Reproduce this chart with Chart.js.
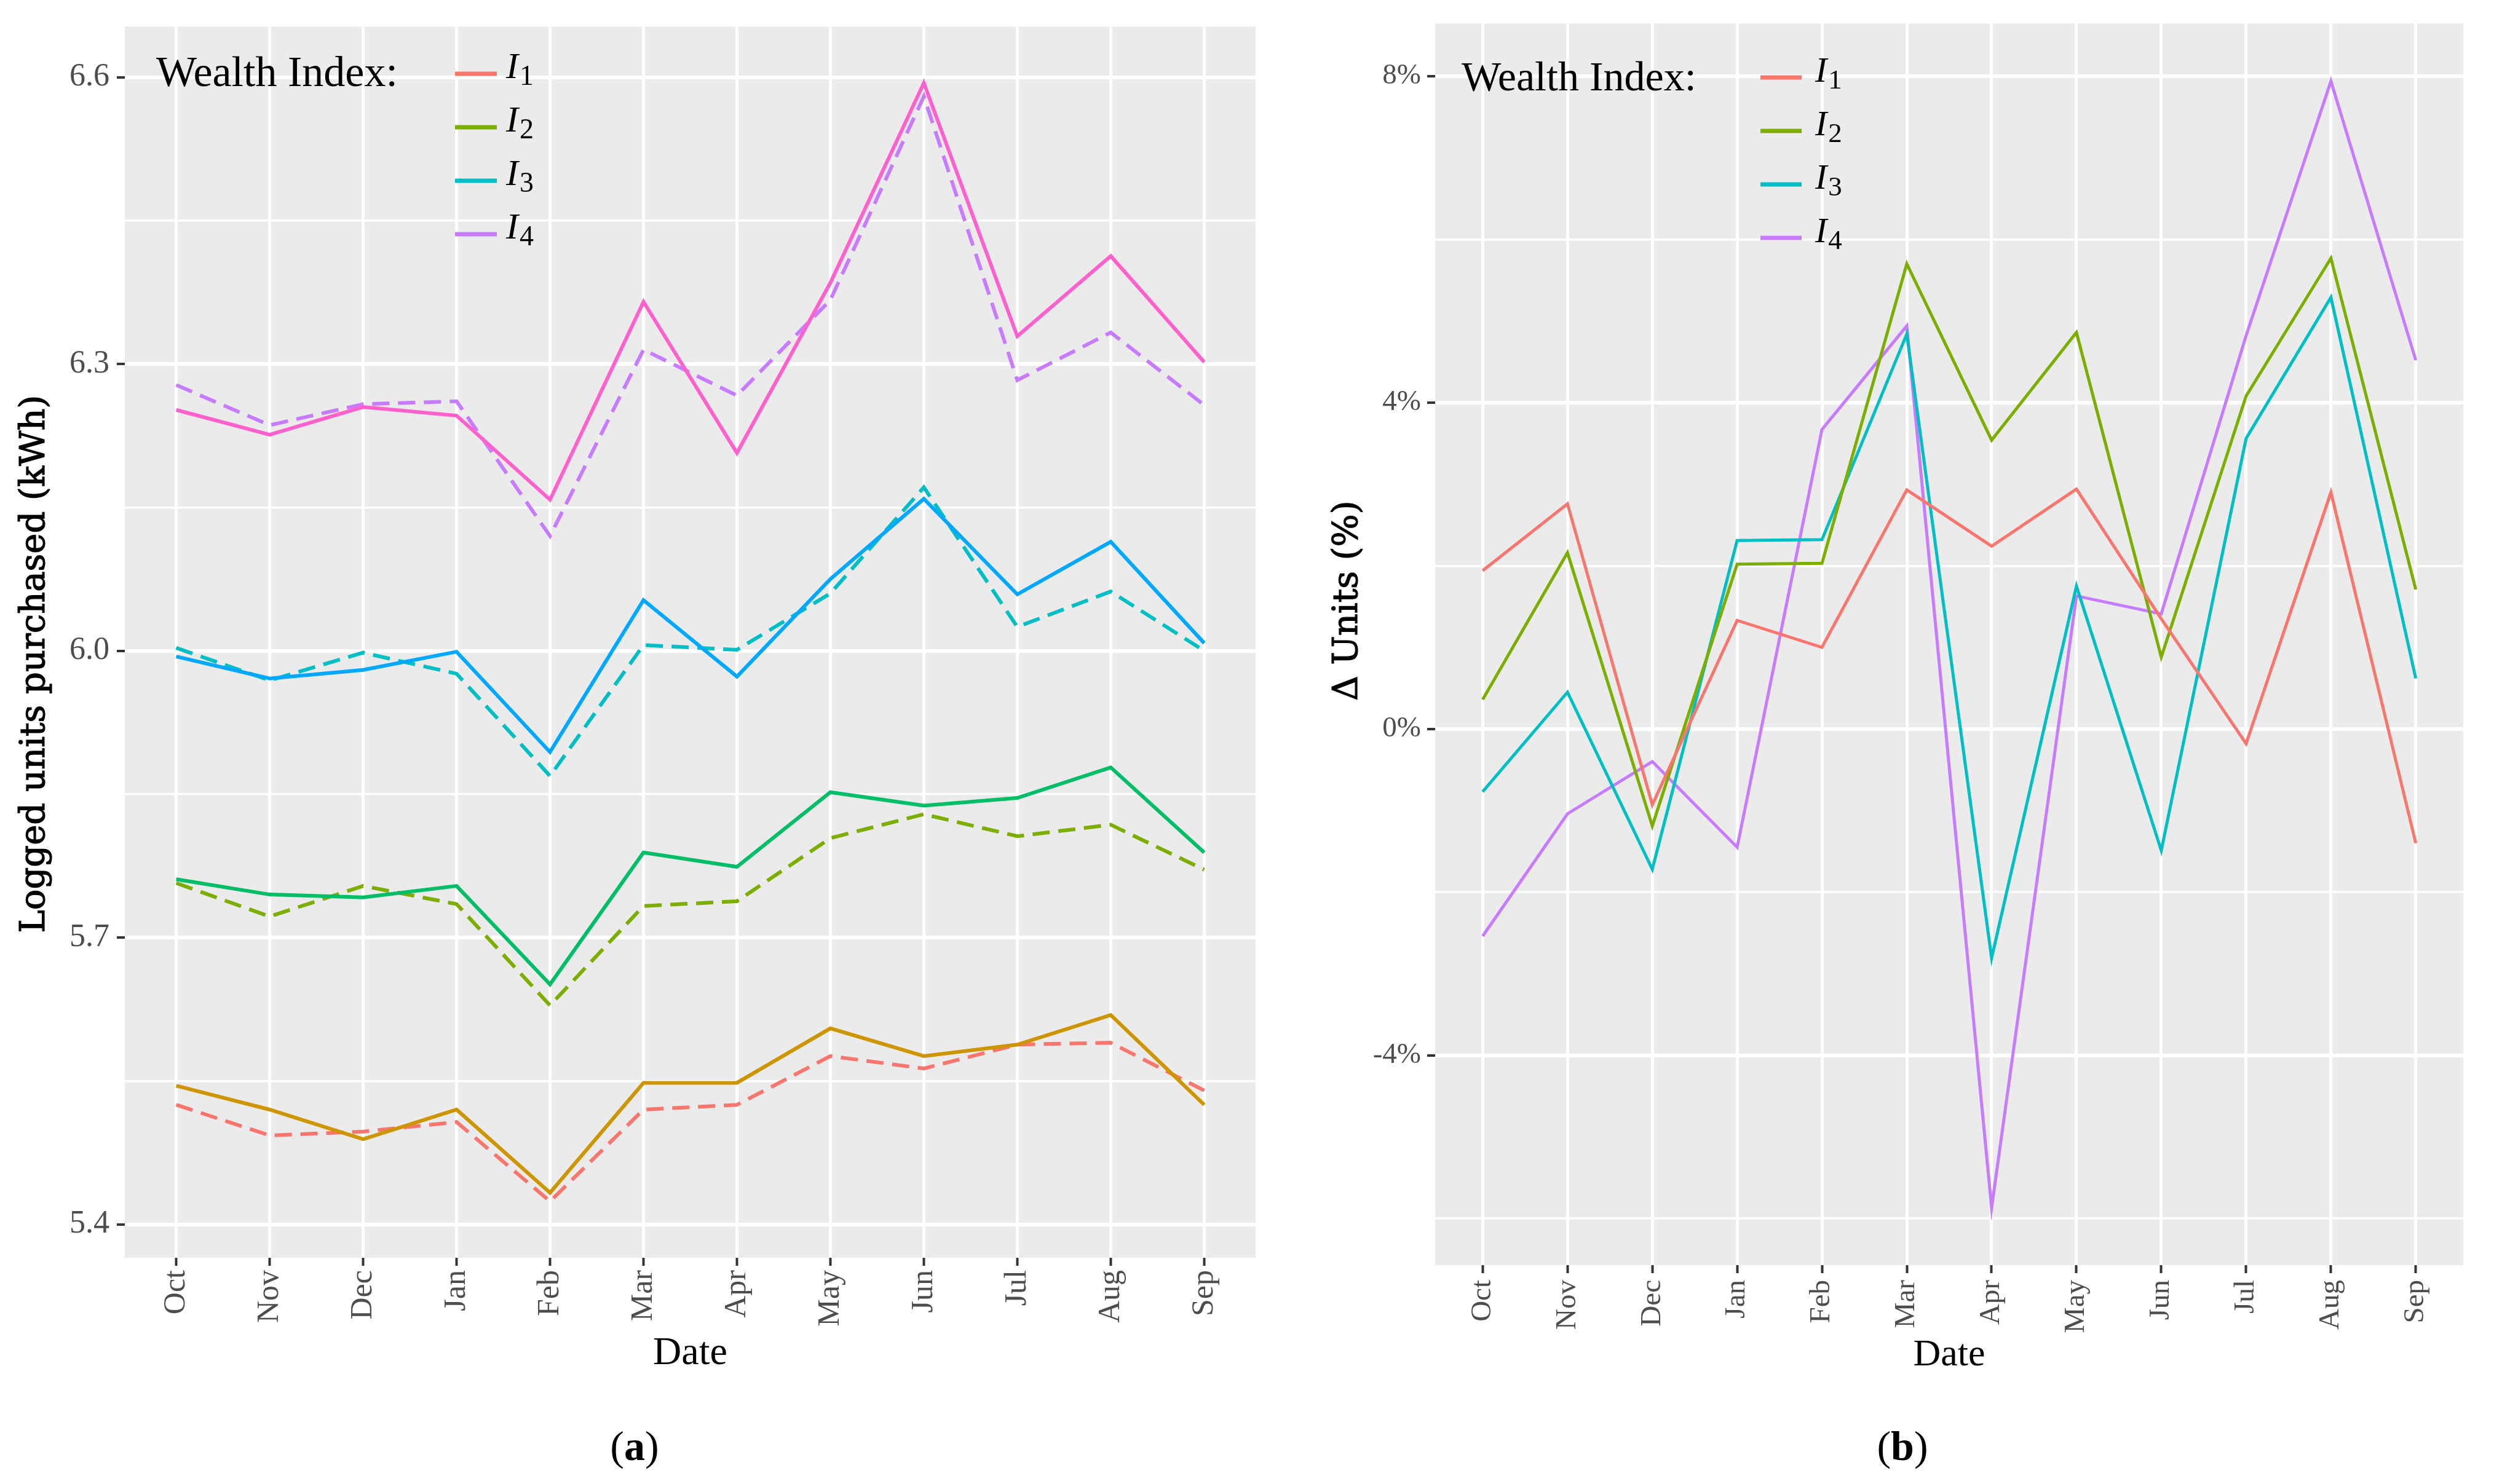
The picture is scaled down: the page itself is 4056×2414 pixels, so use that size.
<!DOCTYPE html>
<html>
<head>
<meta charset="utf-8">
<script src="https://cdn.jsdelivr.net/npm/chart.js@4.4.1/dist/chart.umd.min.js"></script>
<style>
  html, body { margin: 0; padding: 0; background: #fff; }
  body { width: 4056px; height: 2414px; position: relative; overflow: hidden; }
  canvas { position: absolute; top: 0; }
  #chartA { left: 0; }
  #chartB { left: 2120px; }
  .cap { position: absolute; top: 2352px; transform: translate(-50%, -50%);
         font-family: "Liberation Serif", serif; font-size: 68px; color: #000; }
</style>
</head>
<body>
<canvas id="chartA" width="2100" height="2290"></canvas>
<canvas id="chartB" width="1936" height="2290"></canvas>
<div class="cap" style="left:1032px">(<b>a</b>)</div>
<div class="cap" style="left:3094px">(<b>b</b>)</div>
<script>
// shared
const months = ['Oct', 'Nov', 'Dec', 'Jan', 'Feb', 'Mar', 'Apr', 'May', 'Jun', 'Jul', 'Aug', 'Sep'];
const xTitle = 'Date';
const legendTitle = 'Wealth Index:';
const legendSubs = ['1', '2', '3', '4'];
const colI = ['#F8766D', '#7CAE00', '#00BFC4', '#C77CFF'];
const colSolid = ['#CD9600', '#00BE67', '#00A9FF', '#FF61CC'];

// panel (a): logged units, solid and dashed line per wealth index
const solidI1 = [5.545, 5.520, 5.489, 5.520, 5.433, 5.548, 5.548, 5.605, 5.576, 5.588, 5.619, 5.525];
const solidI2 = [5.761, 5.745, 5.742, 5.754, 5.651, 5.789, 5.774, 5.852, 5.838, 5.846, 5.878, 5.789];
const solidI3 = [5.994, 5.971, 5.980, 5.999, 5.894, 6.053, 5.973, 6.075, 6.159, 6.059, 6.114, 6.008];
const solidI4 = [6.252, 6.226, 6.255, 6.246, 6.158, 6.365, 6.207, 6.385, 6.594, 6.329, 6.413, 6.302];
const dashI1 = [5.525, 5.493, 5.497, 5.507, 5.424, 5.520, 5.525, 5.576, 5.563, 5.588, 5.590, 5.540];
const dashI2 = [5.757, 5.722, 5.754, 5.735, 5.629, 5.733, 5.738, 5.804, 5.829, 5.806, 5.818, 5.771];
const dashI3 = [6.003, 5.969, 5.998, 5.976, 5.869, 6.006, 6.001, 6.060, 6.171, 6.025, 6.062, 6.000];
const dashI4 = [6.278, 6.236, 6.258, 6.261, 6.120, 6.315, 6.267, 6.367, 6.580, 6.283, 6.333, 6.257];
const yTicksA = [5.4, 5.7, 6.0, 6.3, 6.6];
const yTickLabelsA = ['5.4', '5.7', '6.0', '6.3', '6.6'];
const yMinorA = [5.55, 5.85, 6.15, 6.45];
const yTitleA = 'Logged units purchased (kWh)';

// panel (b): change in units (%)
const deltaI1 = [1.94, 2.76, -0.93, 1.33, 1.00, 2.93, 2.24, 2.94, 1.35, -0.18, 2.90, -1.40];
const deltaI2 = [0.36, 2.16, -1.19, 2.02, 2.03, 5.70, 3.54, 4.86, 0.88, 4.08, 5.77, 1.71];
const deltaI3 = [-0.77, 0.45, -1.72, 2.31, 2.32, 4.84, -2.81, 1.75, -1.49, 3.56, 5.29, 0.62];
const deltaI4 = [-2.54, -1.04, -0.40, -1.45, 3.67, 4.94, -5.87, 1.63, 1.41, 4.82, 7.94, 4.52];
const yTicksB = [-4, 0, 4, 8];
const yTickLabelsB = ['-4%', '0%', '4%', '8%'];
const yMinorB = [-6, -2, 2, 6];
const yTitleB = 'Δ Units (%)';

const toPts = vals => vals.map((v, i) => ({ x: i, y: v }));

function line(label, vals, color, dashed, width) {
  return {
    label: label,
    data: toPts(vals),
    borderColor: color,
    borderWidth: width,
    borderDash: dashed ? [28, 14] : [],
    pointRadius: 0,
    tension: 0,
    fill: false
  };
}

const panelBg = {
  id: 'panelBg',
  beforeDraw(chart) {
    const { ctx, chartArea: a } = chart;
    ctx.save();
    ctx.fillStyle = '#EBEBEB';
    ctx.fillRect(a.left, a.top, a.right - a.left, a.bottom - a.top);
    ctx.restore();
  }
};

const wealthLegend = {
  id: 'wealthLegend',
  afterDraw(chart, args, o) {
    const ctx = chart.ctx;
    ctx.save();
    ctx.fillStyle = '#000';
    ctx.textAlign = 'left';
    ctx.textBaseline = 'alphabetic';
    ctx.font = o.titleSize + 'px "Liberation Serif"';
    ctx.fillText(legendTitle, o.x, o.titleBase);
    legendSubs.forEach((s, i) => {
      const y = o.firstRow + i * o.rowGap;
      ctx.strokeStyle = colI[i];
      ctx.lineWidth = 7;
      ctx.beginPath();
      ctx.moveTo(o.lineX0, y);
      ctx.lineTo(o.lineX1, y);
      ctx.stroke();
      ctx.font = 'italic ' + o.iSize + 'px "Liberation Serif"';
      ctx.fillText('I', o.textX, y + 7);
      const w = ctx.measureText('I').width;
      ctx.font = o.subSize + 'px "Liberation Serif"';
      ctx.fillText(s, o.textX + w + 2, y + 18);
    });
    ctx.restore();
  }
};

const yTitle = {
  id: 'yTitle',
  afterDraw(chart, args, o) {
    const ctx = chart.ctx;
    ctx.save();
    ctx.translate(o.x, o.y);
    ctx.rotate(-Math.PI / 2);
    ctx.fillStyle = '#000';
    ctx.strokeStyle = '#000';
    ctx.lineWidth = 1.2;
    ctx.textAlign = 'center';
    ctx.textBaseline = 'middle';
    ctx.font = o.size + 'px "DejaVu Serif"';
    ctx.fillText(o.text, 0, 0);
    ctx.strokeText(o.text, 0, 0);
    ctx.restore();
  }
};

function makePanel(id, datasets, p) {
  const isMajor = v => p.yTicks.indexOf(v) >= 0;
  new Chart(document.getElementById(id), {
    type: 'line',
    data: { datasets: datasets },
    plugins: [panelBg, wealthLegend, yTitle],
    options: {
      responsive: false,
      animation: false,
      devicePixelRatio: 1,
      layout: { padding: { left: 0, right: p.padRight, top: p.top, bottom: 0 } },
      plugins: {
        legend: { display: false },
        tooltip: { enabled: false },
        wealthLegend: p.legend,
        yTitle: p.yTitle
      },
      scales: {
        x: {
          type: 'linear',
          min: -p.expand,
          max: months.length - 1 + p.expand,
          afterBuildTicks: s => { s.ticks = months.map((m, i) => ({ value: i })); },
          afterFit: s => { s.height = p.xHeight; },
          border: { display: false },
          grid: { color: '#FFFFFF', lineWidth: 5, tickLength: 13, tickColor: '#333333', tickWidth: 4 },
          ticks: {
            autoSkip: false, minRotation: 90, maxRotation: 90,
            padding: p.xTickPad, color: '#4D4D4D',
            font: { family: 'Liberation Serif', size: p.xTickSize },
            callback: v => months[v]
          },
          title: {
            display: true, text: xTitle, color: '#000',
            font: { family: 'Liberation Serif', size: p.xTitleSize },
            padding: { top: 0, bottom: p.xTitlePad }
          }
        },
        y: {
          min: p.yMin,
          max: p.yMax,
          afterBuildTicks: s => {
            s.ticks = p.yTicks.concat(p.yMinor).sort((a, b) => a - b).map(v => ({ value: v }));
          },
          afterFit: s => { s.width = p.yWidth; },
          border: { display: false },
          grid: {
            color: '#FFFFFF',
            lineWidth: c => (c.tick && !isMajor(c.tick.value)) ? 3.5 : 6,
            tickLength: 13,
            tickWidth: 4,
            tickColor: c => (c.tick && !isMajor(c.tick.value)) ? 'rgba(0,0,0,0)' : '#333333'
          },
          ticks: {
            autoSkip: false, padding: p.yTickPad, color: '#4D4D4D',
            font: { family: 'Liberation Serif', size: p.yTickSize },
            callback: v => { const i = p.yTicks.indexOf(v); return i < 0 ? '' : p.yLabels[i]; }
          }
        }
      }
    }
  });
}

makePanel('chartA', [
  line('I1 solid', solidI1, colSolid[0], false, 6),
  line('I2 solid', solidI2, colSolid[1], false, 6),
  line('I3 solid', solidI3, colSolid[2], false, 6),
  line('I4 solid', solidI4, colSolid[3], false, 6),
  line('I1', dashI1, colI[0], true, 6),
  line('I2', dashI2, colI[1], true, 6),
  line('I3', dashI3, colI[2], true, 6),
  line('I4', dashI4, colI[3], true, 6)
], {
  padRight: 58, top: 36, yWidth: 203, xHeight: 244, expand: 0.55,
  yMin: 5.365, yMax: 6.653, yTicks: yTicksA, yMinor: yMinorA, yLabels: yTickLabelsA,
  xTickSize: 50, xTickPad: 7, yTickSize: 52, yTickPad: 12,
  xTitleSize: 64, xTitlePad: 49,
  yTitle: { text: yTitleA, x: 57, y: 1080, size: 56 },
  legend: { x: 254, titleBase: 140, titleSize: 70, lineX0: 740, lineX1: 808,
            firstRow: 120, rowGap: 87, textX: 823, iSize: 60, subSize: 46 }
});

makePanel('chartB', [
  line('I1', deltaI1, colI[0], false, 5),
  line('I2', deltaI2, colI[1], false, 5),
  line('I3', deltaI3, colI[2], false, 5),
  line('I4', deltaI4, colI[3], false, 5)
], {
  padRight: 50, top: 35, yWidth: 214, xHeight: 232, expand: 0.56,
  yMin: -6.573, yMax: 8.647, yTicks: yTicksB, yMinor: yMinorB, yLabels: yTickLabelsB,
  xTickSize: 47, xTickPad: 11, yTickSize: 47, yTickPad: 10,
  xTitleSize: 62, xTitlePad: 48,
  yTitle: { text: yTitleB, x: 72, y: 977, size: 56 },
  legend: { x: 257, titleBase: 147, titleSize: 68, lineX0: 743, lineX1: 810,
            firstRow: 126, rowGap: 87, textX: 832, iSize: 58, subSize: 45 }
});
</script>
</body>
</html>
